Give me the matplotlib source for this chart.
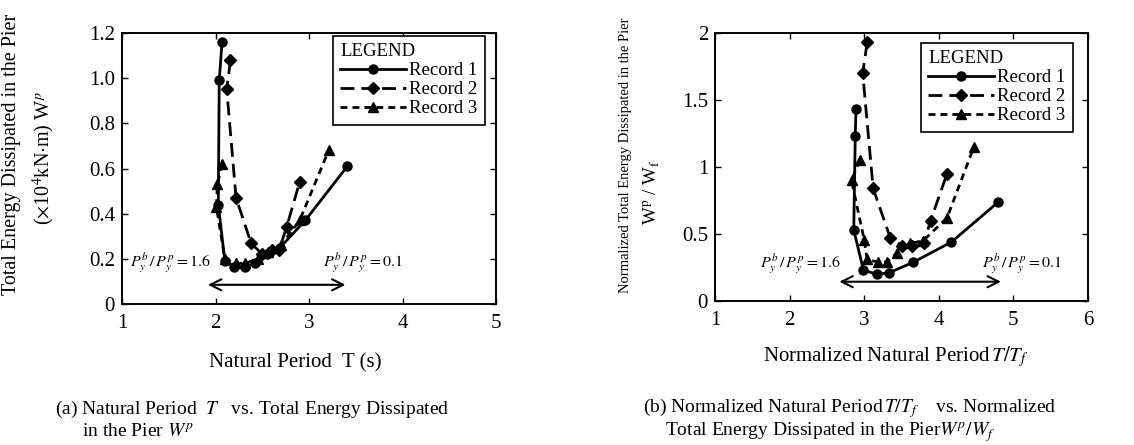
import matplotlib
matplotlib.use("Agg")
import matplotlib.pyplot as plt

plt.rcParams['font.family'] = ['Liberation Serif', 'DejaVu Serif']
plt.rcParams['mathtext.fontset'] = 'stix'

# ---------------- data: panel (a) ----------------
a_r1_x = [2.07, 2.04, 2.03, 2.10, 2.20, 2.32, 2.42, 2.55, 2.69, 2.96, 3.41]
a_r1_y = [1.16, 0.99, 0.44, 0.19, 0.165, 0.165, 0.18, 0.22, 0.25, 0.37, 0.61]
a_r2_x = [2.16, 2.12, 2.22, 2.38, 2.50, 2.60, 2.68, 2.76, 2.90]
a_r2_y = [1.08, 0.95, 0.47, 0.27, 0.22, 0.24, 0.24, 0.34, 0.54]
a_r3_x = [2.07, 2.02, 2.01, 2.10, 2.22, 2.32, 2.45, 2.56, 2.70, 2.90, 3.21]
a_r3_y = [0.62, 0.53, 0.43, 0.20, 0.18, 0.18, 0.20, 0.23, 0.26, 0.37, 0.68]

# ---------------- data: panel (b) ----------------
b_r1_x = [2.89, 2.88, 2.86, 2.99, 3.17, 3.33, 3.66, 4.17, 4.80]
b_r1_y = [1.43, 1.23, 0.53, 0.23, 0.20, 0.21, 0.29, 0.44, 0.74]
b_r2_x = [3.04, 2.98, 3.12, 3.35, 3.51, 3.64, 3.80, 3.89, 4.11]
b_r2_y = [1.93, 1.70, 0.84, 0.47, 0.41, 0.41, 0.43, 0.60, 0.95]
b_r3_x = [2.94, 2.83, 3.00, 3.04, 3.19, 3.30, 3.44, 3.62, 3.79, 4.11, 4.47]
b_r3_y = [1.05, 0.90, 0.455, 0.31, 0.29, 0.29, 0.36, 0.43, 0.45, 0.62, 1.15]

legend_labels = ['Record 1', 'Record 2', 'Record 3']

a_xticks = [1, 2, 3, 4, 5]
a_yticks = [0, 0.2, 0.4, 0.6, 0.8, 1.0, 1.2]
a_yticklabels = ['0', '0.2', '0.4', '0.6', '0.8', '1.0', '1.2']
b_xticks = [1, 2, 3, 4, 5, 6]
b_yticks = [0, 0.5, 1.0, 1.5, 2.0]
b_yticklabels = ['0', '0.5', '1', '1.5', '2']

W, H = 1134, 445
fig = plt.figure(figsize=(W / 100, H / 100), dpi=100)


def px_axes(x0, y0, x1, y1):
    return fig.add_axes([x0 / W, 1 - y1 / H, (x1 - x0) / W, (y1 - y0) / H])


axa = px_axes(122, 33, 496, 304)
axb = px_axes(715, 33, 1088, 301)

styles = [
    dict(color='black', linestyle='-', marker='o', markersize=6.5, linewidth=2.0),
    dict(color='black', linestyle=(0, (5, 2.5)), marker='D', markersize=6.5, linewidth=2.0),
    dict(color='black', linestyle=(0, (2.5, 1.8)), marker='^', markersize=7, linewidth=2.0),
]

for ax, data in [(axa, [(a_r1_x, a_r1_y), (a_r2_x, a_r2_y), (a_r3_x, a_r3_y)]),
                 (axb, [(b_r1_x, b_r1_y), (b_r2_x, b_r2_y), (b_r3_x, b_r3_y)])]:
    for (xs, ys), st, lab in zip(data, styles, legend_labels):
        ax.plot(xs, ys, label=lab, **st)
    for s in ax.spines.values():
        s.set_linewidth(1.4)
    ax.tick_params(direction='in', length=4, width=1, top=True, right=True,
                   labelsize=15)
    ax.tick_params(axis='x', pad=7)
    ax.tick_params(axis='y', pad=5)

axa.set_xlim(1, 5)
axa.set_ylim(0, 1.2)
axa.set_xticks(a_xticks)
axa.set_yticks(a_yticks)
axa.set_yticklabels(a_yticklabels)

axb.set_xlim(1, 6)
axb.set_ylim(0, 2)
axb.set_xticks(b_xticks)
axb.set_yticks(b_yticks)
axb.set_yticklabels(b_yticklabels)

for ax, anchor in [(axa, (0.564, 0.989)), (axb, (0.552, 0.963))]:
    leg = ax.legend(loc='upper left', bbox_to_anchor=anchor, title='LEGEND',
                    fontsize=13.5, title_fontsize=13.5, frameon=True, fancybox=False,
                    edgecolor='black', framealpha=1, borderaxespad=0,
                    handlelength=3.5, handletextpad=0.15, labelspacing=0.1,
                    borderpad=0.4, alignment='left')
    leg.get_frame().set_linewidth(1.2)

# double arrows and annotations
axa.annotate('', xy=(1.89, 0.085), xytext=(3.42, 0.085),
             arrowprops=dict(arrowstyle='<->', color='black', lw=1.5, mutation_scale=20))
axa.text(1.09, 0.18, r'$P_y^b\,/\,P_y^p=1.6$', fontsize=11.5, va='center', ha='left')
axa.text(3.15, 0.18, r'$P_y^b\,/\,P_y^p=0.1$', fontsize=11.5, va='center', ha='left')

axb.annotate('', xy=(2.63, 0.144), xytext=(4.87, 0.144),
             arrowprops=dict(arrowstyle='<->', color='black', lw=1.5, mutation_scale=20))
axb.text(1.60, 0.28, r'$P_y^b\,/\,P_y^p=1.6$', fontsize=11.5, va='center', ha='left')
axb.text(4.58, 0.28, r'$P_y^b\,/\,P_y^p=0.1$', fontsize=11.5, va='center', ha='left')

# y labels
fig.text(12 / W, 1 - 154 / H, 'Total Energy Dissipated in the Pier', rotation=90,
         fontsize=14.5, ha='center', va='center')
fig.text(44 / W, 1 - 158 / H, r'($\times$10$^4$kN$\cdot$m) W$^p$', rotation=90,
         fontsize=14.5, ha='center', va='center')
fig.text(625 / W, 1 - 155 / H, 'Normalized Total Energy Dissipated in the Pier',
         rotation=90, fontsize=10.5, ha='center', va='center')
fig.text(652 / W, 1 - 192 / H, r'W$^\mathrm{p}$ / W$_\mathrm{f}$', rotation=90,
         fontsize=13.5, ha='center', va='center')

# x labels
fig.text(295 / W, 1 - 363 / H, 'Natural Period  T (s)', fontsize=15, ha='center', va='center')
fig.text(763 / W, 1 - 357 / H, r'Normalized Natural Period$\,T/T_f$', fontsize=15,
         ha='left', va='center')

# captions
fig.text(55 / W, 1 - 409 / H, r'(a) Natural Period  $T$   vs. Total Energy Dissipated',
         fontsize=14, ha='left', va='center')
fig.text(82 / W, 1 - 432 / H, r'in the Pier $W^p$', fontsize=14, ha='left', va='center')
fig.text(643 / W, 1 - 408 / H, r'(b) Normalized Natural Period$\,T/T_f$    vs. Normalized',
         fontsize=14, ha='left', va='center')
fig.text(665 / W, 1 - 432 / H, r'Total Energy Dissipated in the Pier$W^p/W_f$',
         fontsize=14, ha='left', va='center')

fig.savefig('out.png', dpi=100)
